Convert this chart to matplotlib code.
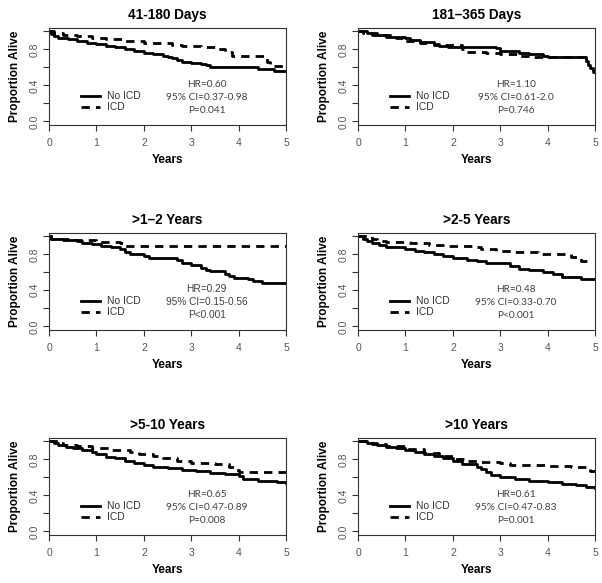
import numpy as np
import matplotlib
matplotlib.use("Agg")
import matplotlib.pyplot as plt

plt.rcParams['font.family'] = ['Liberation Sans', 'DejaVu Sans']

# Panel titles and stats
titles = ["41-180 Days", "181\u2013365 Days", ">1\u20132 Years",
          ">2-5 Years", ">5-10 Years", ">10 Years"]
hr_text = ["HR=0.60", "HR=1.10", "HR=0.29", "HR=0.48", "HR=0.65", "HR=0.61"]
ci_text = ["95% CI=0.37-0.98", "95% CI=0.61-2.0", "95% CI=0.15-0.56",
           "95% CI=0.33-0.70", "95% CI=0.47-0.89", "95% CI=0.47-0.83"]
p_text = ["P=0.041", "P=0.746", "P<0.001", "P<0.001", "P=0.008", "P=0.001"]
stat_font = ["Lato", "Lato", "Liberation Sans", "Lato", "Lato", "Lato"]

# Kaplan-Meier step curves (time in years, survival)
no_icd_t = [
    [0, 0.05, 0.1, 0.2, 0.4, 0.6, 0.8, 1.0, 1.2, 1.4, 1.6, 1.8, 2.0, 2.2, 2.4, 2.5, 2.6, 2.7, 2.8, 3.0, 3.2, 3.3, 3.4, 4.4, 4.75, 5.0],
    [0, 0.2, 0.4, 0.6, 1.0, 1.1, 1.3, 1.6, 1.7, 1.9, 2.9, 3.0, 3.4, 3.6, 3.9, 4.0, 4.8, 4.85, 4.9, 4.95, 5.0],
    [0, 0.05, 0.3, 0.6, 0.7, 0.9, 1.1, 1.3, 1.5, 1.6, 1.7, 2.0, 2.1, 2.7, 2.8, 3.0, 3.2, 3.3, 3.4, 3.7, 3.8, 3.9, 4.2, 4.3, 4.5, 5.0],
    [0, 0.1, 0.2, 0.3, 0.45, 0.6, 1.0, 1.2, 1.4, 1.6, 1.8, 2.0, 2.3, 2.5, 2.7, 3.2, 3.4, 3.6, 3.9, 4.1, 4.3, 4.7, 5.0],
    [0, 0.1, 0.2, 0.35, 0.5, 0.7, 0.9, 1.0, 1.2, 1.4, 1.6, 1.8, 2.0, 2.2, 2.5, 2.8, 3.1, 3.4, 3.7, 4.0, 4.1, 4.4, 4.8, 5.0],
    [0, 0.2, 0.4, 0.6, 0.8, 1.0, 1.2, 1.4, 1.6, 1.8, 2.0, 2.2, 2.5, 2.6, 2.7, 2.8, 3.0, 3.3, 3.6, 4.0, 4.3, 4.6, 4.8, 5.0],
]
no_icd_s = [
    [1.0, 0.97, 0.95, 0.93, 0.91, 0.89, 0.87, 0.855, 0.84, 0.82, 0.80, 0.78, 0.76, 0.75, 0.73, 0.71, 0.70, 0.68, 0.66, 0.65, 0.64, 0.62, 0.60, 0.58, 0.56, 0.56],
    [1.0, 0.98, 0.96, 0.94, 0.92, 0.90, 0.88, 0.86, 0.84, 0.825, 0.81, 0.78, 0.76, 0.745, 0.73, 0.71, 0.67, 0.63, 0.59, 0.55, 0.55],
    [1.0, 0.97, 0.96, 0.95, 0.93, 0.91, 0.89, 0.875, 0.86, 0.83, 0.80, 0.78, 0.76, 0.74, 0.70, 0.68, 0.65, 0.63, 0.61, 0.58, 0.56, 0.54, 0.52, 0.50, 0.485, 0.485],
    [1.0, 0.97, 0.95, 0.93, 0.90, 0.88, 0.86, 0.84, 0.82, 0.80, 0.78, 0.76, 0.74, 0.72, 0.70, 0.67, 0.64, 0.62, 0.60, 0.58, 0.55, 0.52, 0.52],
    [1.0, 0.98, 0.96, 0.94, 0.92, 0.90, 0.88, 0.86, 0.83, 0.81, 0.78, 0.76, 0.735, 0.72, 0.70, 0.68, 0.665, 0.65, 0.64, 0.62, 0.58, 0.56, 0.545, 0.535],
    [1.0, 0.98, 0.96, 0.94, 0.92, 0.90, 0.88, 0.86, 0.84, 0.81, 0.78, 0.75, 0.72, 0.69, 0.66, 0.63, 0.60, 0.58, 0.56, 0.55, 0.53, 0.51, 0.49, 0.48],
]
icd_t = [
    [0, 0.1, 0.3, 0.6, 0.9, 1.2, 1.6, 2.0, 2.4, 2.6, 2.8, 3.2, 3.5, 3.7, 3.85, 4.6, 4.65, 5.0],
    [0, 0.1, 0.3, 0.8, 1.0, 1.3, 1.6, 2.2, 2.3, 2.7, 3.0, 3.4, 3.7, 4.8],
    [0, 0.05, 0.5, 1.0, 1.5, 1.6, 5.0],
    [0, 0.3, 0.4, 0.6, 1.1, 1.5, 1.9, 2.4, 2.6, 2.9, 3.3, 3.8, 4.5, 4.7, 4.85],
    [0, 0.2, 0.3, 0.6, 0.9, 1.3, 1.7, 1.9, 2.2, 2.4, 2.7, 3.0, 3.5, 3.8, 3.9, 4.0, 5.0],
    [0, 0.3, 0.6, 1.0, 1.4, 1.7, 2.0, 2.3, 2.6, 3.0, 3.2, 4.0, 4.5, 4.9, 5.0],
]
icd_s = [
    [1.0, 0.98, 0.96, 0.95, 0.93, 0.91, 0.89, 0.875, 0.87, 0.85, 0.84, 0.82, 0.80, 0.77, 0.73, 0.66, 0.615, 0.615],
    [1.0, 0.98, 0.96, 0.92, 0.89, 0.87, 0.85, 0.80, 0.77, 0.755, 0.745, 0.725, 0.71, 0.70],
    [1.0, 0.97, 0.96, 0.94, 0.92, 0.89, 0.89],
    [1.0, 0.97, 0.95, 0.935, 0.92, 0.905, 0.89, 0.875, 0.86, 0.835, 0.82, 0.80, 0.775, 0.73, 0.71],
    [1.0, 0.98, 0.96, 0.945, 0.925, 0.905, 0.885, 0.86, 0.835, 0.81, 0.785, 0.76, 0.745, 0.71, 0.685, 0.66, 0.66],
    [1.0, 0.97, 0.945, 0.91, 0.87, 0.84, 0.80, 0.78, 0.77, 0.755, 0.74, 0.73, 0.71, 0.67, 0.67],
]

x_ticks = [0, 1, 2, 3, 4, 5]
y_ticks = [0.0, 0.2, 0.4, 0.6, 0.8, 1.0]
y_labels = ["0.0", "", "0.4", "", "0.8", ""]

fig = plt.figure(figsize=(6.02, 5.83), dpi=100)

# axes boxes in figure fractions (left, bottom, width, height)
lefts = [0.0814, 0.5947]
bottoms = [0.7856, 0.434, 0.0823]
w, h = 0.394, 0.167

grey = '#555555'
dash = (0, (3, 2.2))
for i in range(6):
    row, col = i // 2, i % 2
    ax = fig.add_axes([lefts[col], bottoms[row], w, h])

    ax.step(no_icd_t[i], no_icd_s[i], where='post', color='black', lw=2.0)
    ax.step(icd_t[i], icd_s[i], where='post', color='black', lw=2.0,
            linestyle=dash)

    ax.set_xlim(0, 5)
    ax.set_ylim(-0.04, 1.04)
    ax.set_xticks(x_ticks)
    ax.set_yticks(y_ticks)
    ax.set_yticklabels(y_labels)
    ax.tick_params(direction='out', length=4, width=0.8, colors='#333333',
                   labelcolor=grey, labelsize=7.5)
    ax.tick_params(axis='x', pad=5.5)
    ax.tick_params(axis='y', pad=3)
    for lab in ax.get_yticklabels():
        lab.set_rotation(90)
        lab.set_va('center')
    for sp in ax.spines.values():
        sp.set_linewidth(0.8)
        sp.set_color('#333333')

    ax.set_title(titles[i], fontsize=9.8, fontweight='bold', pad=6.5)
    ax.set_xlabel("Years", fontsize=8.5, fontweight='bold', labelpad=4)
    ax.set_ylabel("Proportion Alive", fontsize=8.5, fontweight='bold', labelpad=6)

    # legend drawn by hand in axes coordinates
    ax.plot([0.135, 0.215], [0.30, 0.30], transform=ax.transAxes,
            color='black', lw=2.0)
    ax.plot([0.135, 0.215], [0.18, 0.18], transform=ax.transAxes,
            color='black', lw=2.0, linestyle=dash)
    ax.text(0.245, 0.30, "No ICD", transform=ax.transAxes, fontsize=7.4,
            color='#333333', va='center')
    ax.text(0.245, 0.18, "ICD", transform=ax.transAxes, fontsize=7.4,
            color='#333333', va='center')

    # stats block
    for yy, s in zip([0.42, 0.285, 0.15], [hr_text[i], ci_text[i], p_text[i]]):
        ax.text(0.665, yy, s, transform=ax.transAxes, fontsize=7.3,
                color='#404040', ha='center', va='center',
                family=[stat_font[i], 'DejaVu Sans'])

fig.savefig("out.png", dpi=100)
